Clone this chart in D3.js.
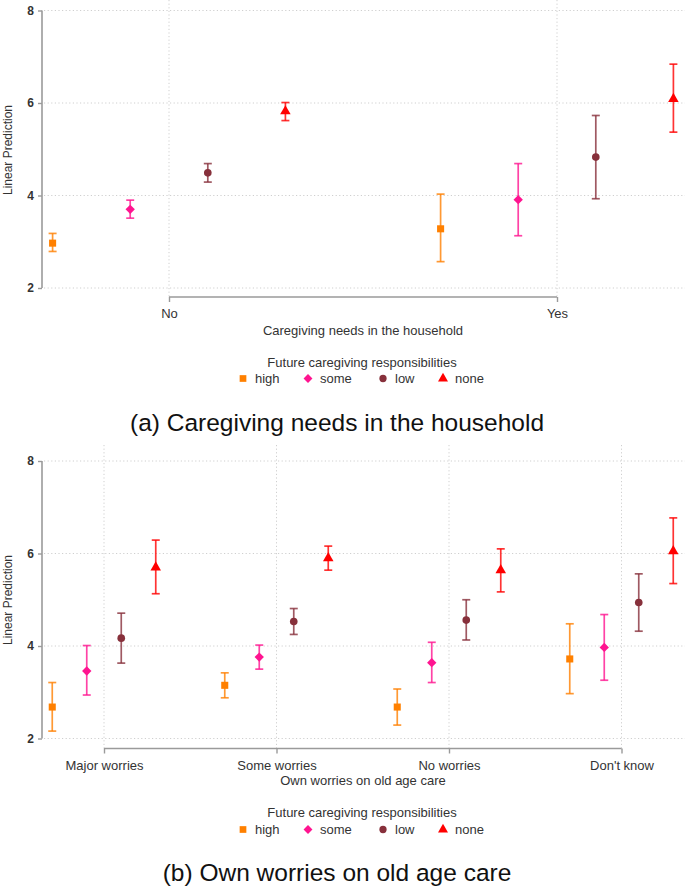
<!DOCTYPE html>
<html>
<head>
<meta charset="utf-8">
<script src="https://cdn.jsdelivr.net/npm/d3@7"></script>
<style>
  body { margin: 0; background: #fff; }
  text { font-family: "Liberation Sans", Arial, sans-serif; }
</style>
</head>
<body>
<script>
var W = 685, H = 887;

// series (future caregiving responsibilities)
var levels = ["high", "some", "low", "none"];
var colors = ["#ff8000", "#ff1490", "#87303b", "#ff0000"];
var yTicks = [2, 4, 6, 8];

// panel (a): caregiving needs in the household
var needsCats = ["No", "Yes"];
var needsEst = [[2.97, 3.70, 4.49, 5.82], [3.28, 3.91, 4.83, 6.09]];
var needsLo = [[2.79, 3.51, 4.29, 5.62], [2.57, 3.13, 3.93, 5.37]];
var needsHi = [[3.18, 3.90, 4.69, 6.01], [4.03, 4.69, 5.73, 6.84]];

// panel (b): own worries on old age care
var worryCats = ["Major worries", "Some worries", "No worries", "Don't know"];
var worryEst = [[2.68, 3.46, 4.17, 5.70], [3.15, 3.76, 4.53, 5.90],
                [2.68, 3.64, 4.56, 5.64], [3.72, 3.97, 4.94, 6.05]];
var worryLo = [[2.16, 2.94, 3.63, 5.13], [2.88, 3.50, 4.25, 5.64],
               [2.29, 3.21, 4.13, 5.17], [2.97, 3.26, 4.32, 5.35]];
var worryHi = [[3.21, 4.01, 4.71, 6.29], [3.42, 4.02, 4.81, 6.16],
               [3.07, 4.08, 5.00, 6.10], [4.48, 4.68, 5.56, 6.77]];

var offsets = [-0.3, -0.1, 0.1, 0.3];
// diamond is a square turned by 45 degrees
var symbols = [d3.symbolSquare, d3.symbolSquare, d3.symbolCircle, d3.symbolTriangle];
var symRot = [0, 45, 0, 0];
var symSize = [50, 44, 46, 48];

var svg = d3.select("body").append("svg")
    .attr("width", W).attr("height", H);

function symPath(j, k) {
  return d3.symbol().type(symbols[j]).size(symSize[j] * (k || 1))();
}

function drawPanel(p) {
  var g = svg.append("g");
  var x = d3.scaleLinear().domain([0, p.cats.length - 1]).range(p.xRange);
  var y = d3.scaleLinear().domain([2, 8]).range(p.yRange);
  var left = 42;

  // horizontal grid
  g.selectAll(".hgrid").data(yTicks).enter().append("line")
      .attr("x1", left + 2).attr("x2", W)
      .attr("y1", d => y(d)).attr("y2", d => y(d))
      .attr("stroke", "#cfcfcf").attr("stroke-width", 1)
      .attr("stroke-dasharray", "1.2,2.4");

  // vertical grid at categories
  g.selectAll(".vgrid").data(p.cats).enter().append("line")
      .attr("x1", (d, i) => x(i)).attr("x2", (d, i) => x(i))
      .attr("y1", p.gridTop).attr("y2", p.axisY)
      .attr("stroke", "#cfcfcf").attr("stroke-width", 1)
      .attr("stroke-dasharray", "1.2,2.4");

  // y axis
  var yAxis = d3.axisLeft(y).tickValues(yTicks).tickFormat(d3.format("d"))
      .tickSize(4).tickPadding(4);
  var ya = g.append("g").attr("transform", "translate(" + left + ",0)").call(yAxis);
  ya.select(".domain").attr("stroke", "#9a9a9a").attr("stroke-width", 1.6)
      .attr("d", "M0," + y(8) + "V" + y(2));
  ya.selectAll(".tick line").attr("stroke", "#9a9a9a").attr("stroke-width", 1.4);
  ya.selectAll(".tick text").attr("fill", "#333").style("font-size", "12px")
      .style("font-weight", "bold");

  // x axis
  var xAxis = d3.axisBottom(x).tickValues(d3.range(p.cats.length))
      .tickFormat(i => p.cats[i]).tickSize(5).tickPadding(7);
  var xa = g.append("g").attr("transform", "translate(0," + p.axisY + ")").call(xAxis);
  xa.select(".domain").attr("stroke", "#9a9a9a").attr("stroke-width", 1.6)
      .attr("d", "M" + x(0) + ",0H" + x(p.cats.length - 1));
  xa.selectAll(".tick line").attr("stroke", "#9a9a9a").attr("stroke-width", 1.4);
  xa.selectAll(".tick text").attr("fill", "#333").style("font-size", "13px");

  // y title
  g.append("text")
      .attr("transform", "translate(12," + p.yTitleY + ") rotate(-90)")
      .attr("text-anchor", "middle").attr("fill", "#333")
      .style("font-size", "12px").text("Linear Prediction");

  // x title
  g.append("text").attr("x", 363).attr("y", p.xTitleY)
      .attr("text-anchor", "middle").attr("fill", "#333")
      .style("font-size", "13px").text(p.xTitle);

  // points with CIs
  var pts = [];
  p.cats.forEach((c, i) => {
    levels.forEach((l, j) => {
      pts.push({cx: i + offsets[j], s: j, est: p.est[i][j], lo: p.lo[i][j], hi: p.hi[i][j]});
    });
  });

  var bars = g.append("g").selectAll("g").data(pts).enter().append("g")
      .attr("stroke", d => colors[d.s]).attr("stroke-width", 1.7)
      .attr("stroke-opacity", 0.8);
  bars.append("line")
      .attr("x1", d => x(d.cx)).attr("x2", d => x(d.cx))
      .attr("y1", d => y(d.lo)).attr("y2", d => y(d.hi));
  bars.append("line")
      .attr("x1", d => x(d.cx) - 4).attr("x2", d => x(d.cx) + 4)
      .attr("y1", d => y(d.lo)).attr("y2", d => y(d.lo));
  bars.append("line")
      .attr("x1", d => x(d.cx) - 4).attr("x2", d => x(d.cx) + 4)
      .attr("y1", d => y(d.hi)).attr("y2", d => y(d.hi));

  g.append("g").selectAll("path").data(pts).enter().append("path")
      .attr("transform", d => "translate(" + x(d.cx) + "," + y(d.est) + ") rotate(" + symRot[d.s] + ")")
      .attr("d", d => symPath(d.s))
      .attr("fill", d => colors[d.s]);

  // legend
  g.append("text").attr("x", 362).attr("y", p.legTitleY)
      .attr("text-anchor", "middle").attr("fill", "#333")
      .style("font-size", "13px").text("Future caregiving responsibilities");
  var legX = [243, 308, 383, 443];
  var li = g.append("g").selectAll("g").data(levels).enter().append("g")
      .attr("transform", (d, j) => "translate(" + legX[j] + "," + p.legY + ")");
  li.append("path")
      .attr("transform", (d, j) => "translate(0,-4.5) rotate(" + symRot[j] + ")")
      .attr("d", (d, j) => symPath(j, 0.9))
      .attr("fill", (d, j) => colors[j]);
  li.append("text").attr("x", 12).attr("fill", "#333")
      .style("font-size", "13px").text(d => d);

  // caption
  g.append("text").attr("x", 337).attr("y", p.captionY)
      .attr("text-anchor", "middle").attr("fill", "#111")
      .style("font-size", "24.5px").text(p.caption);
}

drawPanel({
  cats: needsCats, est: needsEst, lo: needsLo, hi: needsHi,
  xRange: [169, 557], yRange: [288, 10.5], gridTop: 0, axisY: 297,
  yTitleY: 150, xTitleY: 335, xTitle: "Caregiving needs in the household",
  legTitleY: 367, legY: 383, captionY: 431,
  caption: "(a) Caregiving needs in the household"
});

drawPanel({
  cats: worryCats, est: worryEst, lo: worryLo, hi: worryHi,
  xRange: [104, 621.5], yRange: [738.5, 461], gridTop: 445, axisY: 748.5,
  yTitleY: 600, xTitleY: 785, xTitle: "Own worries on old age care",
  legTitleY: 817, legY: 834, captionY: 881,
  caption: "(b) Own worries on old age care"
});
</script>
</body>
</html>
